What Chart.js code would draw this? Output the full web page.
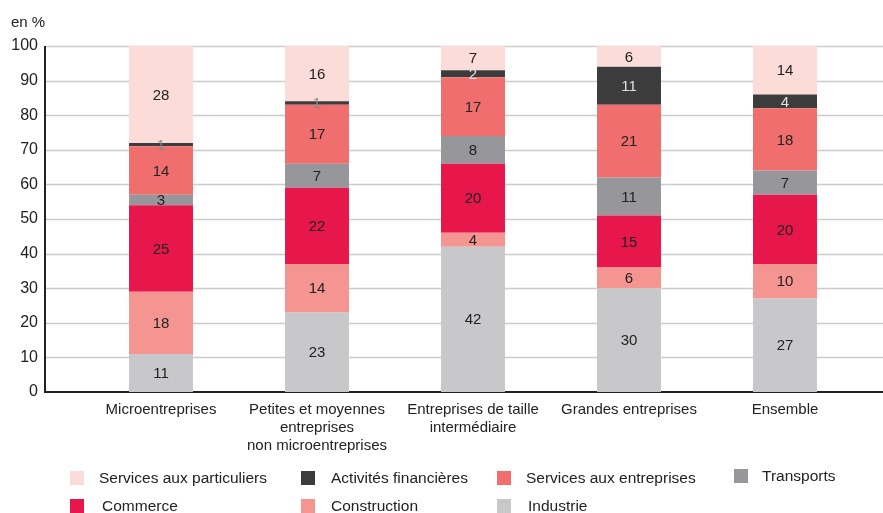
<!DOCTYPE html>
<html>
<head>
<meta charset="utf-8">
<script src="https://cdn.jsdelivr.net/npm/chart.js@4/dist/chart.umd.min.js"></script>
<style>
body{margin:0;background:#fff;font-family:"Liberation Sans",Arial,sans-serif;}
#wrap{position:relative;width:883px;height:513px;overflow:hidden;}
#unit{position:absolute;left:11px;top:13px;font-size:15px;color:#222;}
.box{position:absolute;width:14px;height:14px;}
.txt{position:absolute;font-size:15.5px;color:#222;line-height:18px;white-space:nowrap;}
</style>
</head>
<body>
<div id="wrap">
  <canvas id="canvas" width="883" height="513"></canvas>
  <div id="unit">en %</div>
  <div id="legend"></div>
</div>
<script>
var categories = ['Microentreprises',
  ['Petites et moyennes', 'entreprises', 'non microentreprises'],
  ['Entreprises de taille', 'intermédiaire'],
  'Grandes entreprises', 'Ensemble'];

// séries, du bas vers le haut de la pile
var industrie = [11, 23, 42, 30, 27];
var construction = [18, 14, 4, 6, 10];
var commerce = [25, 22, 20, 15, 20];
var transports = [3, 7, 8, 11, 7];
var servicesEntreprises = [14, 17, 17, 21, 18];
var activitesFinancieres = [1, 1, 2, 11, 4];
var servicesParticuliers = [28, 16, 7, 6, 14];

var yTicks = [0, 10, 20, 30, 40, 50, 60, 70, 80, 90, 100];

var barChartData = {
  labels: categories,
  datasets: [
    { label: 'Industrie', data: industrie, backgroundColor: '#c8c8ca', labelColor: '#222' },
    { label: 'Construction', data: construction, backgroundColor: '#f49591', labelColor: '#222' },
    { label: 'Commerce', data: commerce, backgroundColor: '#e8174b', labelColor: '#222' },
    { label: 'Transports', data: transports, backgroundColor: '#97979b', labelColor: '#222' },
    { label: 'Services aux entreprises', data: servicesEntreprises, backgroundColor: '#f06e6e', labelColor: '#222' },
    { label: 'Activités financières', data: activitesFinancieres, backgroundColor: '#3c3c3c', labelColor: '#e0e0e0' },
    { label: 'Services aux particuliers', data: servicesParticuliers, backgroundColor: '#fcdcd8', labelColor: '#222' }
  ]
};

var AXIS_X = 45;

// grille et axes qui débordent de la zone des barres
var gridPlugin = {
  id: 'grid',
  beforeDatasetsDraw: function(chart) {
    var ctx = chart.ctx, y = chart.scales.y;
    ctx.save();
    ctx.strokeStyle = '#cccccc';
    ctx.lineWidth = 1.5;
    yTicks.forEach(function(t) {
      if (t === 0) return;
      var py = Math.round(y.getPixelForValue(t)) + 0.5;
      ctx.beginPath();
      ctx.moveTo(AXIS_X, py);
      ctx.lineTo(chart.width, py);
      ctx.stroke();
    });
    ctx.strokeStyle = '#222';
    ctx.lineWidth = 2;
    var top = y.getPixelForValue(100), bot = y.getPixelForValue(0);
    ctx.beginPath();
    ctx.moveTo(AXIS_X, top);
    ctx.lineTo(AXIS_X, bot);
    ctx.lineTo(chart.width, bot);
    ctx.stroke();
    ctx.restore();
  }
};

var valuePlugin = {
  id: 'values',
  afterDatasetsDraw: function(chart) {
    var ctx = chart.ctx;
    ctx.save();
    ctx.font = '15px "Liberation Sans", Arial, sans-serif';
    ctx.textAlign = 'center';
    ctx.textBaseline = 'middle';
    chart.data.datasets.forEach(function(ds, i) {
      chart.getDatasetMeta(i).data.forEach(function(bar, j) {
        var v = ds.data[j];
        ctx.fillStyle = v <= 1 ? '#8a8a8a' : ds.labelColor;
        ctx.fillText(v, bar.x, (bar.y + bar.base) / 2 + 1);
      });
    });
    ctx.restore();
  }
};

window.onload = function() {
  var ctx = document.getElementById('canvas').getContext('2d');
  Chart.defaults.font.family = '"Liberation Sans", Arial, sans-serif';
  Chart.defaults.color = '#222';
  window.myBar = new Chart(ctx, {
    type: 'bar',
    data: barChartData,
    options: {
      responsive: false,
      animation: false,
      layout: { padding: { top: 46, right: 20, bottom: 0, left: 0 } },
      datasets: { bar: { categoryPercentage: 1, barPercentage: 0.41 } },
      plugins: { legend: { display: false }, tooltip: { enabled: false } },
      scales: {
        x: {
          stacked: true,
          grid: { display: false, drawTicks: false },
          border: { display: false },
          ticks: { font: { size: 15 }, padding: 9, maxRotation: 0, autoSkip: false },
          afterFit: function(s) { s.height = 121; }
        },
        y: {
          stacked: true,
          min: 0, max: 100,
          grid: { display: false, drawTicks: false },
          border: { display: false },
          ticks: { stepSize: 10, font: { size: 16 }, padding: 45 },
          afterFit: function(s) {
            s.width = 83;
            s.paddingTop = 8;
            s.paddingBottom = 8;
          }
        }
      }
    },
    plugins: [gridPlugin, valuePlugin]
  });

  // légende sur deux lignes, ordre du haut de la pile vers le bas
  var slots = [
    [70, 99, 478], [301, 331, 478], [497, 526, 478], [734, 762, 476],
    [70, 102, 506], [301, 331, 506], [497, 528, 506]
  ];
  var leg = document.getElementById('legend');
  barChartData.datasets.slice().reverse().forEach(function(ds, k) {
    var s = slots[k];
    var b = document.createElement('div');
    b.className = 'box';
    b.style.left = s[0] + 'px';
    b.style.top = (s[2] - 7) + 'px';
    b.style.background = ds.backgroundColor;
    leg.appendChild(b);
    var t = document.createElement('div');
    t.className = 'txt';
    t.style.left = s[1] + 'px';
    t.style.top = (s[2] - 9) + 'px';
    t.textContent = ds.label;
    leg.appendChild(t);
  });
};
</script>
</body>
</html>
